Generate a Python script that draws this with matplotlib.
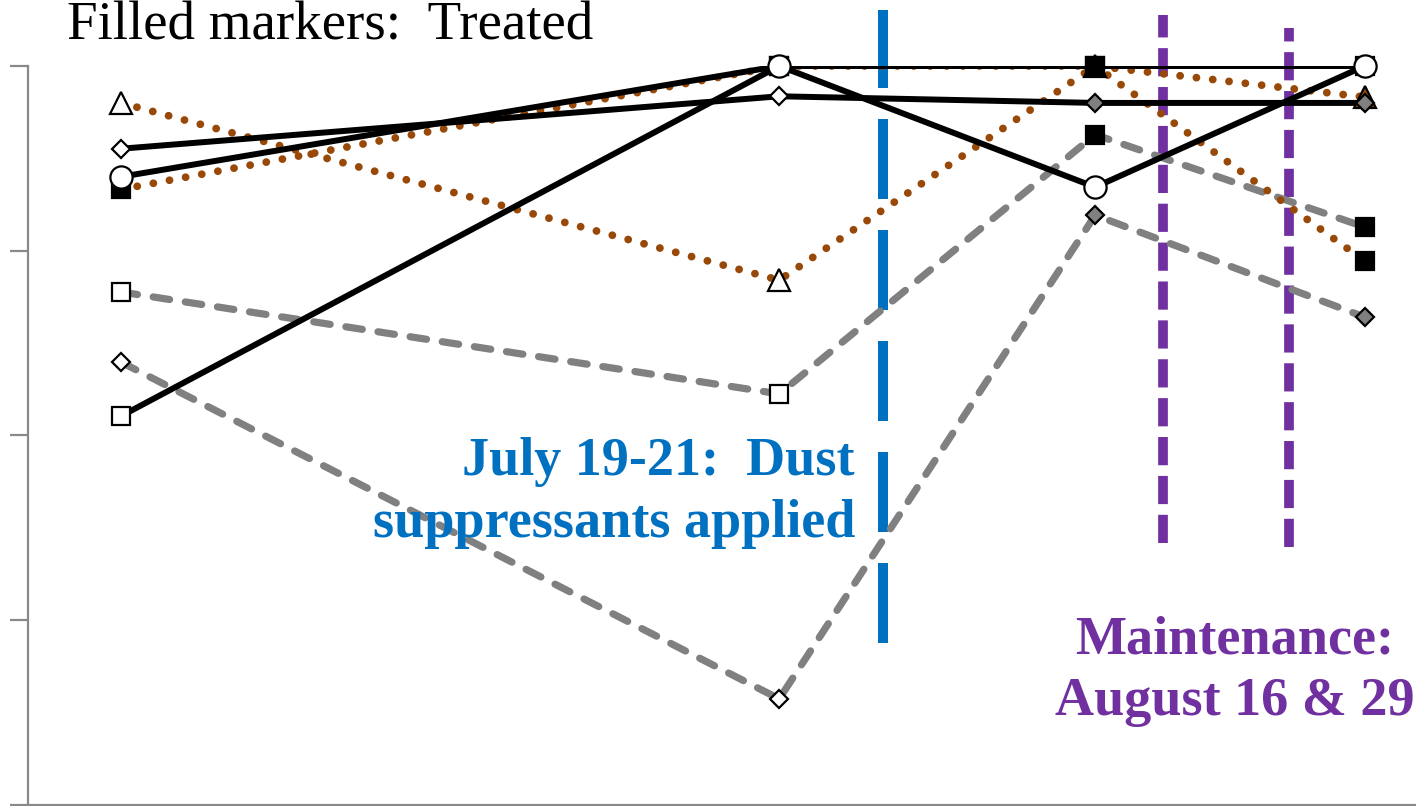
import matplotlib
matplotlib.use("Agg")
import matplotlib.pyplot as plt

# ---- data ----
dates = [120.5, 188.4, 221.0, 248.8]          # day of year of sampling
dust_day = 199.1                              # July 19-21 dust suppressants
maint_days = [228.0, 241.0]                   # Aug 16 & Aug 29 maintenance

circle_solid   = [85.0, 100.0, 83.6, 100.0]
diamond_solid  = [88.8, 95.9, 95.0, 95.0]
square_solid   = [52.6, 100.0, 100.0, 100.0]
triangle_dot   = [95.0, 71.0, 100.0, 95.8]
square_dot     = [83.3, 100.0, 100.0, 73.6]
square_dash    = [69.4, 55.6, 90.7, 78.2]
diamond_dash   = [59.9, 14.3, 79.8, 66.0]

yticks = [0, 25, 50, 75, 100]

# ---- styles ----
BLACK = "#000000"
BROWN = "#984807"
GRAY = "#808080"
BLUE = "#0070C0"
PURPLE = "#7030A0"
AXIS_GRAY = "#898989"

plt.rcParams['font.family'] = ['Liberation Serif', 'DejaVu Serif']

fig = plt.figure(figsize=(14.16, 8.06), dpi=100)
ax = fig.add_axes([28/1416, 1.5/806, 1 - 28/1416, (806-66-1.5)/806])
ax.set_xlim(110.9, 254.1)
ax.set_ylim(0, 100)

solid = dict(color=BLACK, lw=4.3, solid_capstyle='round', solid_joinstyle='round')
dotted = dict(color=BROWN, lw=5.6, linestyle=(0, (0.01, 2.1)), dash_capstyle='round')
dashed = dict(color=GRAY, lw=5.2, linestyle=(0, (2.3, 2.2)), dash_capstyle='round')

# lines
ax.plot(dates, diamond_dash, zorder=2, **dashed)
ax.plot(dates, square_dash, zorder=2, **dashed)
ax.plot(dates, triangle_dot, zorder=2.1, **dotted)
ax.plot(dates, square_dot, zorder=2.1, **dotted)
ax.plot(dates, square_solid, zorder=2.2, **solid)
ax.plot(dates, diamond_solid, zorder=2.2, **solid)
ax.plot(dates, circle_solid, zorder=2.2, **solid)


def markers(ys, marker, ms, faces, z):
    for xv, yv, fc in zip(dates, ys, faces):
        ax.plot([xv], [yv], marker=marker, ms=ms, mfc=fc, mec=BLACK,
                mew=1.6, ls='none', zorder=z, clip_on=False)

W = "white"
markers(triangle_dot, '^', 16, [W, W, BROWN, BROWN], 3.0)
markers(square_dot, 's', 12.5, [BLACK, W, BLACK, BLACK], 3.1)
markers(square_dash, 's', 12.5, [W, W, BLACK, BLACK], 3.1)
markers(square_solid, 's', 12.5, [W, W, BLACK, BLACK], 3.2)
markers(diamond_dash, 'D', 9.5, [W, W, GRAY, GRAY], 3.3)
markers(diamond_solid, 'D', 9.5, [W, W, GRAY, GRAY], 3.3)
markers(circle_solid, 'o', 16, [W, W, W, W], 3.4)

# event lines
ax.axvline(dust_day, ymin=(805-643)/739, ymax=(805-10)/739, color=BLUE, lw=7.2,
           linestyle=(0, (8, 3.1)), dash_capstyle='butt', clip_on=False, zorder=1.5)
ax.axvline(maint_days[0], ymin=(805-543)/739, ymax=(805-15)/739, color=PURPLE, lw=7.0,
           linestyle=(0, (2.9, 1.1)), dash_capstyle='butt', clip_on=False, zorder=1.5)
ax.axvline(maint_days[1], ymin=(805-547)/739, ymax=(805-28)/739, color=PURPLE, lw=7.0,
           linestyle=(0, (2.9, 1.1)), dash_capstyle='butt', clip_on=False, zorder=1.5)

# axes styling
for s in ['top', 'right']:
    ax.spines[s].set_visible(False)
ax.spines['left'].set_color(AXIS_GRAY)
ax.spines['bottom'].set_color(AXIS_GRAY)
ax.spines['left'].set_linewidth(1.6)
ax.spines['bottom'].set_linewidth(1.6)
ax.set_yticks(yticks)
ax.set_yticklabels([])
ax.tick_params(axis='y', length=13, width=1.6, color=AXIS_GRAY, direction='out')
ax.set_xticks([])

# texts
fig.text(67/1416, 1 - 39/806, "Filled markers:  Treated", fontsize=39.5,
         color=BLACK, ha='left', va='baseline')
fig.text(855/1416, 1 - 493/806, "July 19-21:  Dust\nsuppressants applied",
         fontsize=39, fontweight='bold', color=BLUE, ha='right', va='center',
         multialignment='right', linespacing=1.34)
fig.text(1235/1416, 1 - 671/806, "Maintenance:\nAugust 16 & 29",
         fontsize=39, fontweight='bold', color=PURPLE, ha='center', va='center',
         multialignment='center', linespacing=1.30)

fig.savefig("out.png", dpi=100)
